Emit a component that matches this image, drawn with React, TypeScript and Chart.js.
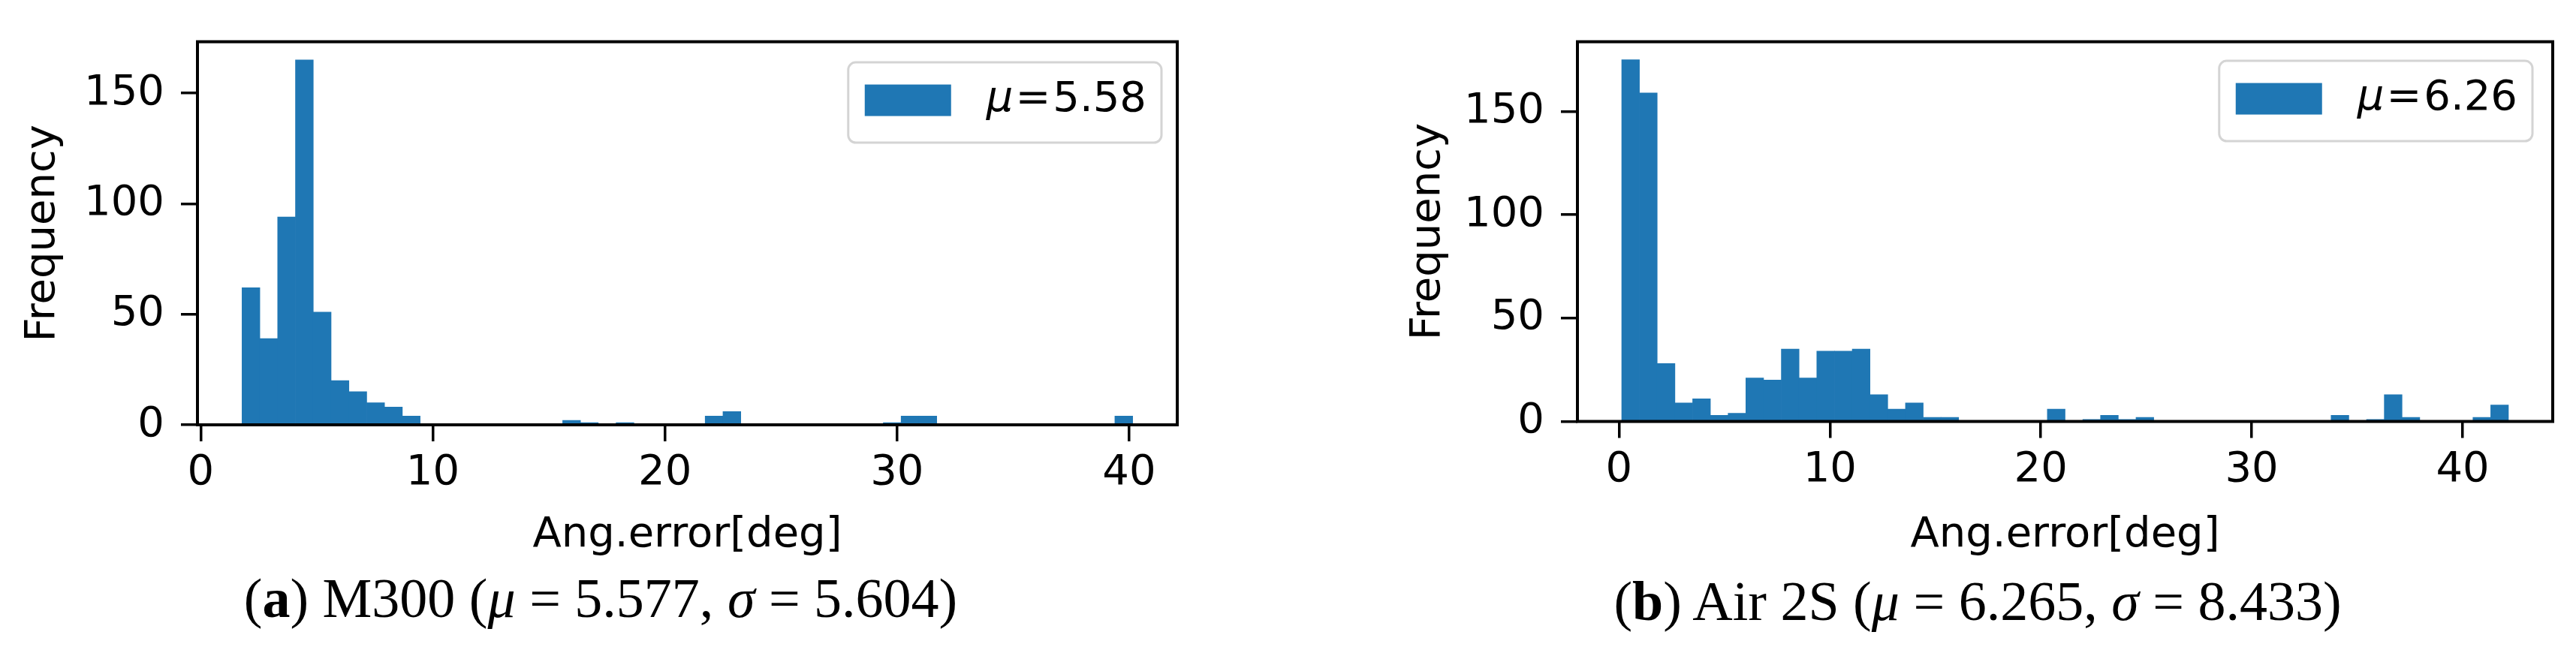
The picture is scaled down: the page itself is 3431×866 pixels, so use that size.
import React, { useEffect, useRef } from "react";
import { Chart, registerables } from "chart.js";

Chart.register(...registerables);

// ---- data (50-bin histograms) ----
const M300_RANGE = [1.78, 40.15]; // histogram range (deg)
const M300_COUNTS = [
  62, 39, 94, 165, 51, 20, 15, 10, 8, 4,
  0, 0, 0, 0, 0, 0, 0, 0, 2, 1,
  0, 1, 0, 0, 0, 0, 4, 6, 0, 0,
  0, 0, 0, 0, 0, 0, 1, 4, 4, 0,
  0, 0, 0, 0, 0, 0, 0, 0, 0, 4,
];
const M300_XLIM = [-0.14, 42.07];
const M300_YMAX = 173.25;
const M300_LABEL = "μ=5.58";

const AIR2S_RANGE = [0.13, 42.17];
const AIR2S_COUNTS = [
  175, 159, 28, 9, 11, 3, 4, 21, 20, 35,
  21, 34, 34, 35, 13, 6, 9, 2, 2, 0,
  0, 0, 0, 0, 6, 0, 1, 3, 1, 2,
  0, 0, 0, 0, 0, 0, 0, 0, 0, 0,
  3, 0, 1, 13, 2, 0, 0, 0, 2, 8,
];
const AIR2S_XLIM = [-1.97, 44.27];
const AIR2S_YMAX = 183.75;
const AIR2S_LABEL = "μ=6.26";

const X_TICKS = [0, 10, 20, 30, 40];
const Y_TICKS = [0, 50, 100, 150];
const X_TITLE = "Ang.error[deg]";
const Y_TITLE = "Frequency";

const BAR_COLOR = "#1f77b4";
const FONT_FAMILY = '"DejaVu Sans", sans-serif';
const FONT_SIZE = 56;
const CANVAS_H = 760;

const framePlugin = {
  id: "frame",
  afterDraw(chart: any, _args: any, opts: any) {
    const { ctx, chartArea: c } = chart;
    ctx.save();
    ctx.strokeStyle = "#000";
    ctx.lineWidth = opts.width || 4;
    ctx.strokeRect(c.left, c.top, c.right - c.left, c.bottom - c.top);
    ctx.restore();
  },
};

const mplLegendPlugin = {
  id: "mplLegend",
  afterDraw(chart: any, _args: any, o: any) {
    const ds = chart.data.datasets[0];
    const { ctx, chartArea } = chart;
    const label = String(ds.label);
    const idx = label.indexOf("=");
    const sym = label.slice(0, idx);
    const rest = label.slice(idx + 1);
    const italic = `italic ${o.fontSize}px ${FONT_FAMILY}`;
    const normal = `${o.fontSize}px ${FONT_FAMILY}`;
    ctx.save();
    ctx.font = italic;
    const wSym = ctx.measureText(sym).width;
    ctx.font = normal;
    const wEq = ctx.measureText("=").width;
    const wRest = ctx.measureText(rest).width;
    const textW = wSym + o.eqGap + wEq + o.eqGap + wRest;
    const boxW = o.padL + o.patchW + o.textGap + textW + o.padR;
    const right = chartArea.right - o.offsetRight;
    const left = right - boxW;
    const top = chartArea.top + o.offsetTop;
    ctx.beginPath();
    (ctx as any).roundRect(left, top, boxW, o.boxH, o.radius);
    ctx.fillStyle = "rgba(255,255,255,0.8)";
    ctx.fill();
    ctx.lineWidth = o.frameWidth;
    ctx.strokeStyle = o.frameColor;
    ctx.stroke();
    const cy = top + o.boxH / 2 + o.rowShift;
    ctx.fillStyle = ds.backgroundColor;
    ctx.fillRect(left + o.padL, cy - o.patchH / 2, o.patchW, o.patchH);
    ctx.fillStyle = "#000";
    ctx.textBaseline = "middle";
    ctx.textAlign = "left";
    let x = left + o.padL + o.patchW + o.textGap;
    ctx.font = italic;
    ctx.fillText(sym, x, cy);
    x += wSym + o.eqGap;
    ctx.font = normal;
    ctx.fillText("=", x, cy);
    x += wEq + o.eqGap;
    ctx.fillText(rest, x, cy);
    ctx.restore();
  },
};

type Cfg = {
  left: number;
  width: number;
  padTop: number;
  padRight: number;
  yAxisW: number;
  xAxisH: number;
  range: number[];
  counts: number[];
  xlim: number[];
  ymax: number;
  label: string;
  legendOffsetRight: number;
  legendOffsetTop: number;
  titlePadY: number;
};

function Histogram({ cfg }: { cfg: Cfg }) {
  const ref = useRef<HTMLCanvasElement>(null);
  useEffect(() => {
    if (!ref.current) return;
    const binW = (cfg.range[1] - cfg.range[0]) / cfg.counts.length;
    const data = cfg.counts.map((c, i) => ({ x: cfg.range[0] + binW * (i + 0.5), y: c }));
    const font = { family: FONT_FAMILY, size: FONT_SIZE };
    const grid = {
      display: true,
      drawOnChartArea: false,
      drawTicks: true,
      offset: false,
      tickLength: 22,
      tickWidth: 3.5,
      lineWidth: 3.5,
      color: "#000",
    };
    const chart = new Chart(ref.current, {
      type: "bar",
      data: {
        datasets: [
          {
            label: cfg.label,
            data: data as any,
            backgroundColor: BAR_COLOR,
            borderWidth: 0,
            barPercentage: 1,
            categoryPercentage: 1,
          },
        ],
      },
      plugins: [framePlugin, mplLegendPlugin],
      options: {
        animation: false,
        responsive: false,
        maintainAspectRatio: false,
        layout: { padding: { left: 0, right: cfg.padRight, top: cfg.padTop, bottom: 0 } },
        plugins: {
          legend: { display: false },
          tooltip: { enabled: false },
          frame: { width: 4 },
          mplLegend: {
            fontSize: FONT_SIZE,
            eqGap: 3,
            padL: 22,
            patchW: 115,
            patchH: 42,
            textGap: 47,
            padR: 20,
            boxH: 107,
            radius: 10,
            frameWidth: 3,
            frameColor: "#d4d4d4",
            offsetRight: cfg.legendOffsetRight,
            offsetTop: cfg.legendOffsetTop,
            rowShift: -3,
          },
        } as any,
        scales: {
          x: {
            type: "linear",
            position: "bottom",
            offset: false,
            bounds: "data",
            min: cfg.xlim[0],
            max: cfg.xlim[1],
            afterBuildTicks: (s: any) => {
              s.ticks = X_TICKS.map((v) => ({ value: v }));
            },
            afterFit: (s: any) => {
              s.height = cfg.xAxisH;
            },
            grid: grid as any,
            border: { display: false },
            ticks: { font, color: "#000", padding: 9, maxRotation: 0, autoSkip: false, includeBounds: false },
            title: {
              display: true,
              text: X_TITLE,
              font,
              color: "#000",
              padding: { top: 0, bottom: 13 },
            },
          },
          y: {
            type: "linear",
            min: 0,
            max: cfg.ymax,
            afterBuildTicks: (s: any) => {
              s.ticks = Y_TICKS.map((v) => ({ value: v }));
            },
            afterFit: (s: any) => {
              s.width = cfg.yAxisW;
            },
            grid: grid as any,
            border: { display: false },
            ticks: { font, color: "#000", padding: 22, autoSkip: false, includeBounds: false },
            title: {
              display: true,
              text: Y_TITLE,
              font,
              color: "#000",
              padding: { top: cfg.titlePadY, bottom: 0 },
            },
          },
        },
      } as any,
    });
    return () => chart.destroy();
  }, []);
  return (
    <canvas
      ref={ref}
      width={cfg.width}
      height={CANVAS_H}
      style={{ position: "absolute", left: cfg.left, top: 0, width: cfg.width, height: CANVAS_H }}
    />
  );
}

const captionStyle: React.CSSProperties = {
  position: "absolute",
  width: 1400,
  textAlign: "center",
  fontFamily: '"Liberation Serif", "Times New Roman", serif',
  fontSize: 74,
  lineHeight: "1",
  whiteSpace: "nowrap",
  color: "#000",
};

export default function App() {
  const left: Cfg = {
    left: 0,
    width: 1600,
    padTop: 32.5,
    padRight: 32,
    yAxisW: 263,
    xAxisH: CANVAS_H - 566,
    range: M300_RANGE,
    counts: M300_COUNTS,
    xlim: M300_XLIM,
    ymax: M300_YMAX,
    label: M300_LABEL,
    legendOffsetRight: 21,
    legendOffsetTop: 27.5,
    titlePadY: 24,
  };
  const right: Cfg = {
    left: 1845,
    width: 1586,
    padTop: 31.5,
    padRight: 31,
    yAxisW: 256,
    xAxisH: CANVAS_H - 561.5,
    range: AIR2S_RANGE,
    counts: AIR2S_COUNTS,
    xlim: AIR2S_XLIM,
    ymax: AIR2S_YMAX,
    label: AIR2S_LABEL,
    legendOffsetRight: 27,
    legendOffsetTop: 25.5,
    titlePadY: 24,
  };
  return (
    <div style={{ position: "absolute", left: 0, top: 0, width: 3431, height: 866, background: "#fff", overflow: "hidden" }}>
      <Histogram cfg={left} />
      <Histogram cfg={right} />
      <div style={{ ...captionStyle, left: 800 - 700, top: 760 }}>
        (<b>a</b>) M300 (<i>μ</i> = 5.577, <i>σ</i> = 5.604)
      </div>
      <div style={{ ...captionStyle, left: 2634 - 700, top: 764 }}>
        (<b>b</b>) Air 2S (<i>μ</i> = 6.265, <i>σ</i> = 8.433)
      </div>
    </div>
  );
}
